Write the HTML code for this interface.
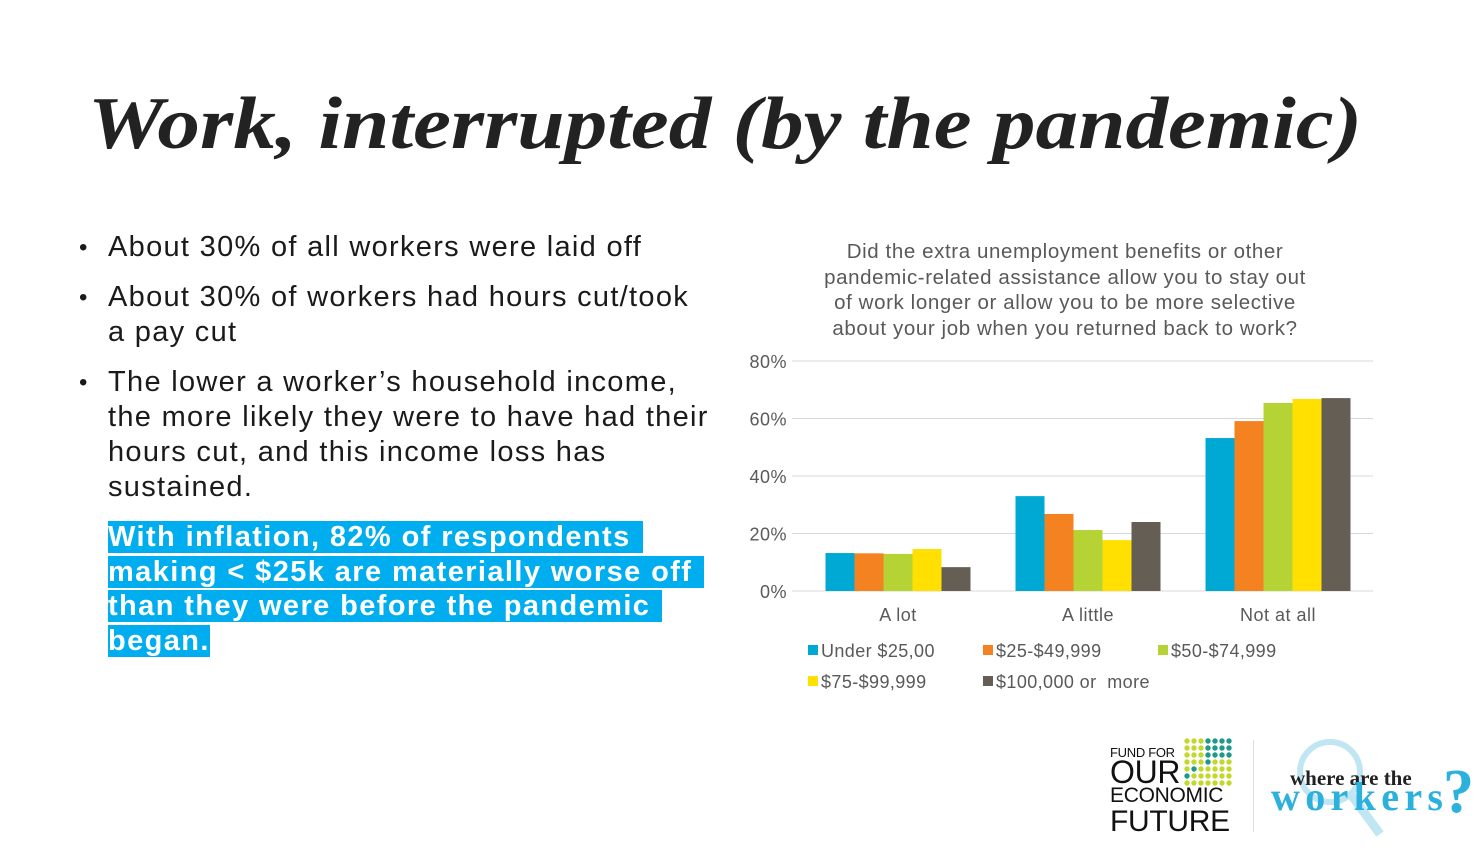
<!DOCTYPE html>
<html><head><meta charset="utf-8"><style>
body{margin:0;width:1482px;height:856px;background:#fff;position:relative;overflow:hidden;font-family:"Liberation Sans",sans-serif}
.abs{position:absolute}
.b{position:absolute;left:108px;font-size:29px;line-height:35px;color:#1a1a1a;letter-spacing:1.3px;white-space:nowrap}
.b:before{content:"•";position:absolute;left:-29px;font-size:24px;letter-spacing:0}
.hl{position:absolute;left:108px;top:520px;font-size:29px;line-height:34.5px;font-weight:bold;color:#fff;letter-spacing:1.4px;white-space:nowrap}
.hl span{background:#00aeef;padding-right:12px}
</style></head><body>
<svg class="abs" style="left:0;top:60px" width="1482" height="110">
<text x="88" y="88" textLength="1274" lengthAdjust="spacingAndGlyphs" font-family="Liberation Serif, serif" font-style="italic" font-weight="bold" font-size="74" fill="#222">Work, interrupted (by the pandemic)</text></svg>
<div class="b" style="top:230px">About 30% of all workers were laid off</div>
<div class="b" style="top:280px">About 30% of workers had hours cut/took<br>a pay cut</div>
<div class="b" style="top:365px">The lower a worker’s household income,<br>the more likely they were to have had their<br>hours cut, and this income loss has<br>sustained.</div>
<div class="hl"><span>With inflation, 82% of respondents </span><br><span>making &lt; $25k are materially worse off</span><br><span>than they were before the pandemic </span><br><span style="padding-right:0">began.</span></div>
<div class="abs" style="left:765px;top:239px;width:600px;text-align:center;font-size:20.5px;line-height:25.5px;color:#595959;letter-spacing:0.6px">Did the extra unemployment benefits or other<br>pandemic-related assistance allow you to stay out<br>of work longer or allow you to be more selective<br>about your job when you returned back to work?</div>
<svg id="chart" class="abs" style="left:0;top:0" width="1482" height="856"></svg>
<div class="abs" style="left:1110px;top:746px;font-size:13px;color:#111;line-height:13px;letter-spacing:-0.3px">FUND FOR<br><span style="font-size:32px;line-height:26px">OUR</span><br><span style="font-size:21px;line-height:22px">ECONOMIC</span><br><span style="font-size:30px;line-height:30px">FUTURE</span></div>
<svg class="abs" style="left:1184px;top:738px" width="50" height="50" id="dots"></svg>
<div class="abs" style="left:1253px;top:740px;width:1px;height:92px;background:#ddd"></div>
<svg class="abs" style="left:1265px;top:730px" width="217" height="120">
<circle cx="65" cy="42" r="30" fill="none" stroke="#bfe6f2" stroke-width="6"/><line x1="87" y1="66" x2="115" y2="104" stroke="#bfe6f2" stroke-width="9"/>
<text x="25" y="55" font-family="Liberation Serif,serif" font-weight="bold" font-size="21" fill="#222">where  are the</text>
<text x="6" y="80" font-family="Liberation Serif,serif" font-weight="bold" font-size="40" fill="#2cb0dc" textLength="172">workers</text>
<text x="178" y="82" font-family="Liberation Serif,serif" font-weight="bold" font-size="62" fill="#2cb0dc">?</text></svg>
<script>
const categories=["A lot","A little","Not at all"];
const seriesNames=["Under $25,00","$25-$49,999","$50-$74,999","$75-$99,999","$100,000 or\u00a0\u00a0more"];
const under25=[13.2,33,53.2];
const s25to50=[13.1,26.8,59.1];
const s50to75=[12.9,21.2,65.4];
const s75to100=[14.6,17.7,66.8];
const s100plus=[8.3,24,67.1];
const yTicks=[0,20,40,60,80];
const colors=["#00a9d4","#f58220","#b5d334","#ffe000","#655e55"];
const series=[under25,s25to50,s50to75,s75to100,s100plus];
const ns="http://www.w3.org/2000/svg",svg=document.getElementById('chart');
const gx0=792,bx0=803,x1=1373,y0=591,yTop=361,yMax=80;
const y=v=>y0-(v/yMax)*(y0-yTop);
const gw=(x1-bx0)/categories.length,bw=29;
function mk(t,a,p){const e=document.createElementNS(ns,t);for(const k in a)e.setAttribute(k,a[k]);(p||svg).appendChild(e);return e;}
yTicks.forEach(t=>{const l=mk('line',{x1:gx0,x2:x1,y1:y(t),y2:y(t),stroke:'#d9d9d9','stroke-width':1});


const tx=mk('text',{x:787,y:y(t)+7,'text-anchor':'end','font-size':18,fill:'#595959','font-family':'Liberation Sans,sans-serif','letter-spacing':0.5});tx.textContent=t+'%';

});
categories.forEach((c,i)=>{const cx=bx0+gw*(i+0.5);
series.forEach((s,j)=>{const bx=cx-bw*2.5+j*bw;const r=mk('rect',{x:bx,y:y(s[i]),width:bw,height:y0-y(s[i]),fill:colors[j]});

});
const t=mk('text',{x:cx,y:621,'text-anchor':'middle','font-size':18,fill:'#595959','font-family':'Liberation Sans,sans-serif','letter-spacing':0.5});t.textContent=c;

});
const lp=[[808,650],[983,650],[1158,650],[808,681],[983,681]];
seriesNames.forEach((n,j)=>{const g=mk('g',{});


mk('rect',{x:lp[j][0],y:lp[j][1]-5,width:10,height:10,fill:colors[j]},g);
const t=mk('text',{x:lp[j][0]+13,y:lp[j][1]+7,'font-size':18,fill:'#595959','font-family':'Liberation Sans,sans-serif','letter-spacing':0.4},g);t.textContent=n;});
const d=document.getElementById('dots');
for(let r=0;r<7;r++)for(let c=0;c<7;c++){const teal=(c>=3&&r<3)||(r==3&&c==3)||(r==4&&c==1)||(r==5&&c==0);mk('circle',{cx:3+c*7,cy:3+r*7,r:2.7,fill:teal?'#1f9a8a':'#c3d82e'},d);}
</script>
</body></html>
